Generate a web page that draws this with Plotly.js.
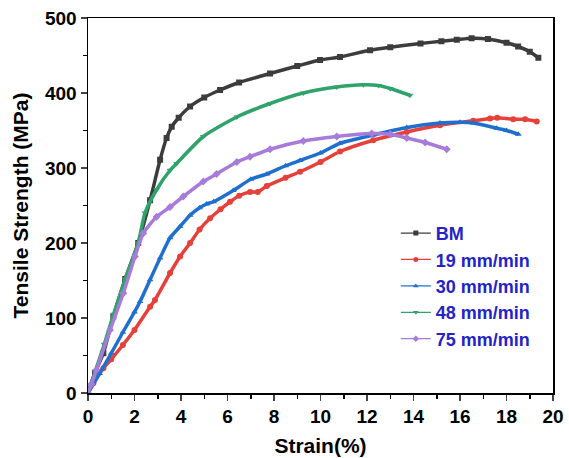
<!DOCTYPE html>
<html>
<head>
<meta charset="utf-8">
<script src="https://cdn.plot.ly/plotly-3.0.1.min.js"></script>
<style>html,body{margin:0;padding:0;background:#fff;}#chart{width:569px;height:458px;}</style>
</head>
<body>
<div id="chart"></div>
<script>
// Series names
const names = ["BM", "19 mm/min", "30 mm/min", "48 mm/min", "75 mm/min"];

// BM
const bmStrain = [0,0.3,0.66,1.09,1.6,2.16,2.67,3.1,3.38,3.6,3.9,4.39,5.0,5.68,6.5,7.83,9.0,9.98,10.84,12.13,13.0,14.3,15.2,15.86,16.5,17.2,18.0,18.5,19.0,19.37];
const bmStress = [0,27,53,102,152,200,257,311,340,355,367,382,394,404,414,426,436,444,448,457,461,466,469,471,473,472,467,462,455,447];

// 19 mm/min
const r19Strain = [0,0.23,0.66,1.0,1.5,2.0,2.67,2.88,3.53,3.96,4.39,4.8,5.25,5.7,6.11,6.5,6.97,7.3,7.69,8.5,9.12,10.0,10.84,12.27,13.71,15.14,16.57,17.29,17.6,18.29,18.8,19.3];
const r19Stress = [0,13,33,45,64,84,115,124,160,182,200,218,233,245,255,263,268,268,276,287,295,308,322,337,348,357,363,366,367,365,365,362];

// 30 mm/min
const r30Strain = [0,0.5,1.0,1.5,2.0,2.24,2.67,3.1,3.53,3.96,4.39,4.8,5.1,5.4,6.25,7.0,7.7,8.5,9.12,10.0,10.84,12.27,13.71,15.14,16.0,16.57,17.58,18.0,18.51];
const r30Stress = [0,26,53,81,108,122,151,180,207,222,237,247,252,255,270,285,292,303,310,320,333,344,354,360,361,360,353,350,345];

// 48 mm/min
const r48Strain = [0,0.3,0.7,1.1,1.6,2.16,2.45,2.95,3.53,3.81,4.96,6.4,7.83,9.26,10.7,11.84,12.5,13.0,13.85];
const r48Stress = [0,28,65,105,152,200,240,271,297,306,342,368,386,400,408,411,410,406,397];

// 75 mm/min
const r75Strain = [0,0.15,0.37,0.95,1.52,2.02,2.38,2.95,3.53,4.1,4.96,5.53,6.4,6.97,7.83,9.26,10.7,12.2,13.0,13.71,14.5,15.43];
const r75Stress = [0,12,31,84,133,182,213,235,248,262,282,292,308,315,325,336,342,346,345,340,334,325];

const xs = [bmStrain, r19Strain, r30Strain, r48Strain, r75Strain];
const ys = [bmStress, r19Stress, r30Stress, r48Stress, r75Stress];
const colors = ["#3c3c3c", "#e5403a", "#1f6fcf", "#2fa36b", "#a77bd9"];
const symbols = ["square", "circle", "triangle-up", "triangle-down", "diamond"];

const traces = [];
for (let i = 0; i < names.length; i++) {
  traces.push({
    x: xs[i], y: ys[i], type: "scatter", mode: "lines+markers",
    line: {color: colors[i], width: 3.5, shape: "spline", smoothing: 0.6},
    marker: {color: colors[i], symbol: symbols[i], size: 6},
    showlegend: false, hoverinfo: "skip"
  });
}
for (let i = 0; i < names.length; i++) {
  traces.push({
    x: [null], y: [null], type: "scatter", mode: "lines+markers", name: names[i],
    line: {color: colors[i], width: 1.3},
    marker: {color: colors[i], symbol: symbols[i], size: 5},
    showlegend: true
  });
}

const axisFont = {family: "Liberation Sans, Arial, sans-serif", size: 19, color: "#000"};
const layout = {
  width: 569, height: 458,
  margin: {l: 88, r: 16, t: 18, b: 65},
  paper_bgcolor: "#fff", plot_bgcolor: "#fff",
  font: {family: "Liberation Sans, Arial, sans-serif", color: "#000"},
  xaxis: {
    range: [0, 20], dtick: 2, tick0: 0, ticks: "outside", ticklen: 6, tickwidth: 1.5,
    showline: true, linecolor: "#000", linewidth: 1.5, mirror: true,
    showgrid: false, zeroline: false,
    tickfont: Object.assign({}, axisFont, {weight: "bold"}),
    minor: {dtick: 1, ticks: "outside", ticklen: 4, tickwidth: 1.5, tickcolor: "#000", showgrid: false},
    title: {text: "<b>Strain(%)</b>", font: {family: "Liberation Sans, Arial, sans-serif", size: 21, color: "#000"}, standoff: 12}
  },
  yaxis: {
    range: [0, 500], dtick: 100, tick0: 0, ticks: "outside", ticklen: 6, tickwidth: 1.5,
    showline: true, linecolor: "#000", linewidth: 1.5, mirror: true,
    showgrid: false, zeroline: false,
    tickfont: Object.assign({}, axisFont, {weight: "bold"}),
    minor: {dtick: 50, ticks: "outside", ticklen: 4, tickwidth: 1.5, tickcolor: "#000", showgrid: false},
    title: {text: "<b>Tensile Strength (MPa)</b>", font: {family: "Liberation Sans, Arial, sans-serif", size: 21, color: "#000"}, standoff: 10}
  },
  legend: {
    x: 0.662, y: 0.475, xanchor: "left", yanchor: "top",
    bgcolor: "rgba(0,0,0,0)", borderwidth: 0,
    font: {family: "Liberation Sans, Arial, sans-serif", size: 18, color: "#2323c8", weight: "bold"},
    tracegroupgap: 0
  }
};

Plotly.newPlot("chart", traces, layout, {displayModeBar: false, staticPlot: true});
</script>
</body>
</html>
